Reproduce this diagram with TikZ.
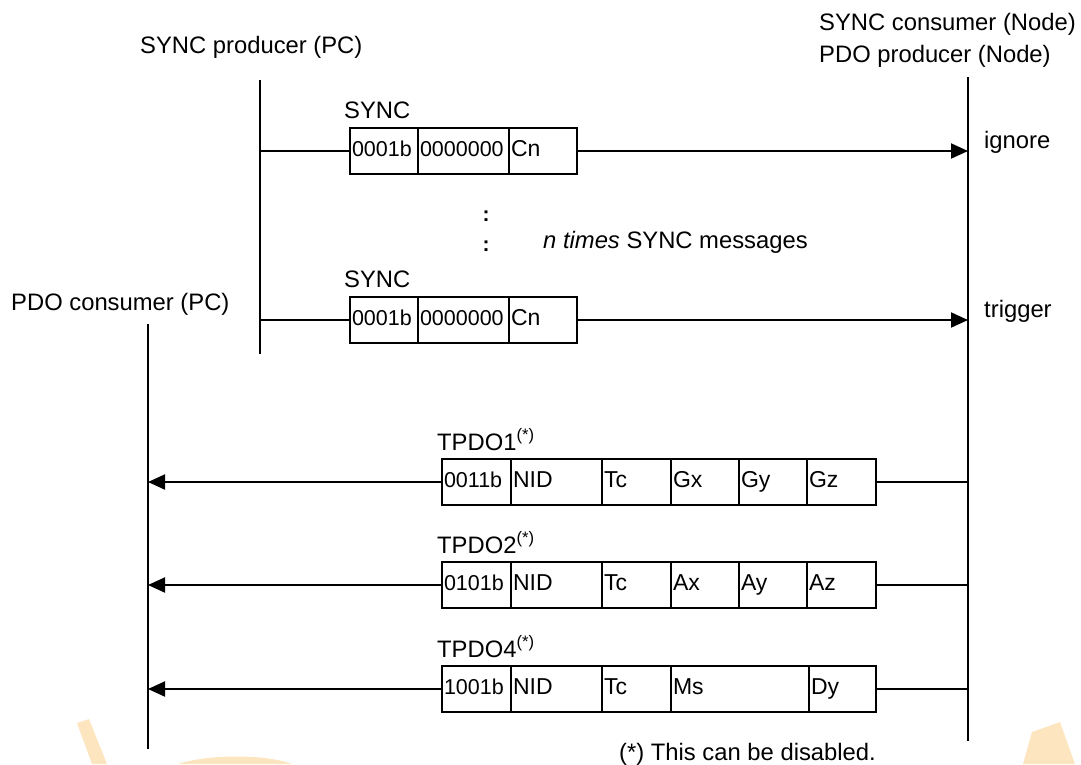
\documentclass[tikz,border=0pt]{standalone}
\usepackage{fontspec}
\setmainfont{Liberation Sans}
\usetikzlibrary{arrows.meta,positioning}
\definecolor{wmorange}{RGB}{253,229,192}

\begin{document}
\begin{tikzpicture}[x=1pt, y=-1pt,
    lbl/.style={font=\fontsize{23.8}{28}\selectfont, inner sep=0pt},
    field/.style={draw, line width=1.8pt, outer sep=0pt, minimum height=46pt,
        text width=#1-4pt, inner xsep=2pt, inner ysep=0pt, align=left,
        text height=16pt, text depth=5pt, font=\fontsize{23}{27}\selectfont},
    code/.style={field=#1, font=\fontsize{21.5}{25}\selectfont},
    life/.style={line width=1.3pt},
    wire/.style={line width=2pt},
    msg/.style={wire, -{Triangle[length=17pt, width=15pt]}}]

    \useasboundingbox (0,0) rectangle (1081,764);

    % Watermark pieces
    \fill[wmorange] (77,723) -- (89,719) -- (107,764) -- (92,764) -- cycle;
    \fill[wmorange] (178,764) .. controls (205,755) and (262,753) .. (292,764) -- cycle;
    \fill[wmorange] (1032,732) -- (1060,722) -- (1075,764) -- (1023,764) -- cycle;

    % Lifelines
    \coordinate (prodTop) at (260,80);
    \coordinate (prodBot) at (260,354);
    \coordinate (consTop) at (148,324);
    \coordinate (consBot) at (148,749);
    \coordinate (nodeTop) at (968,77);
    \coordinate (nodeBot) at (968,741);
    \draw[life] (prodTop) -- (prodBot);
    \draw[life] (consTop) -- (consBot);
    \draw[life] (nodeTop) -- (nodeBot);

    % Titles
    \node[lbl, anchor=base west] (prodTitle) at (140,53) {SYNC producer (PC)};
    \node[lbl, anchor=base west] (nodeTitleA) at (819,30) {SYNC consumer (Node)};
    \node[lbl, anchor=base west] (nodeTitleB) at (819,62) {PDO producer (Node)};
    \node[lbl, anchor=base west] (consTitle) at (11,310) {PDO consumer (PC)};

    % First SYNC message
    \node[lbl, anchor=base west] (syncA) at (344,118) {SYNC};
    \node[code=68pt, anchor=west] (syncAcob) at (350,151) {0001b};
    \node[code=91pt, right=0pt of syncAcob] (syncAnid) {0000000};
    \node[field=68pt, right=0pt of syncAnid] (syncAcn) {Cn};
    \coordinate (prodA) at (prodTop |- syncAcob);
    \coordinate (nodeA) at (nodeTop |- syncAcob);
    \draw[wire] (prodA) -- (syncAcob);
    \draw[msg] (syncAcn) -- (nodeA);
    \node[lbl, anchor=base west] (ignore) at (984,148) {ignore};

    % n times
    \node[font=\fontsize{21}{24}\selectfont\bfseries, inner sep=0pt] (dotsA) at (486,216) {:};
    \node[font=\fontsize{21}{24}\selectfont\bfseries, inner sep=0pt] (dotsB) at (486,246) {:};
    \node[lbl, anchor=base west] (ntimes) at (543,248) {\textit{n times} SYNC messages};

    % Last SYNC message
    \node[lbl, anchor=base west] (syncB) at (344,287) {SYNC};
    \node[code=68pt, anchor=west] (syncBcob) at (350,320) {0001b};
    \node[code=91pt, right=0pt of syncBcob] (syncBnid) {0000000};
    \node[field=68pt, right=0pt of syncBnid] (syncBcn) {Cn};
    \coordinate (prodB) at (prodTop |- syncBcob);
    \coordinate (nodeB) at (nodeTop |- syncBcob);
    \draw[wire] (prodB) -- (syncBcob);
    \draw[msg] (syncBcn) -- (nodeB);
    \node[lbl, anchor=base west] (trigger) at (984,317) {trigger};

    % TPDO1
    \node[lbl, anchor=base west] (tpdoA) at (437,450) {TPDO1\textsuperscript{(*)}};
    \node[code=69pt, anchor=west] (tpdoAcob) at (442,482) {0011b};
    \node[field=91pt, right=0pt of tpdoAcob] (tpdoAnid) {NID};
    \node[field=69pt, right=0pt of tpdoAnid] (tpdoAtc) {Tc};
    \node[field=68pt, right=0pt of tpdoAtc] (tpdoAx) {Gx};
    \node[field=68pt, right=0pt of tpdoAx] (tpdoAy) {Gy};
    \node[field=69pt, right=0pt of tpdoAy] (tpdoAz) {Gz};
    \coordinate (nodeC) at (nodeTop |- tpdoAcob);
    \coordinate (consC) at (consTop |- tpdoAcob);
    \draw[wire] (nodeC) -- (tpdoAz);
    \draw[msg] (tpdoAcob) -- (consC);

    % TPDO2
    \node[lbl, anchor=base west] (tpdoB) at (437,553) {TPDO2\textsuperscript{(*)}};
    \node[code=69pt, anchor=west] (tpdoBcob) at (442,585) {0101b};
    \node[field=91pt, right=0pt of tpdoBcob] (tpdoBnid) {NID};
    \node[field=69pt, right=0pt of tpdoBnid] (tpdoBtc) {Tc};
    \node[field=68pt, right=0pt of tpdoBtc] (tpdoBx) {Ax};
    \node[field=68pt, right=0pt of tpdoBx] (tpdoBy) {Ay};
    \node[field=69pt, right=0pt of tpdoBy] (tpdoBz) {Az};
    \coordinate (nodeD) at (nodeTop |- tpdoBcob);
    \coordinate (consD) at (consTop |- tpdoBcob);
    \draw[wire] (nodeD) -- (tpdoBz);
    \draw[msg] (tpdoBcob) -- (consD);

    % TPDO4
    \node[lbl, anchor=base west] (tpdoC) at (437,657) {TPDO4\textsuperscript{(*)}};
    \node[code=69pt, anchor=west] (tpdoCcob) at (442,689) {1001b};
    \node[field=91pt, right=0pt of tpdoCcob] (tpdoCnid) {NID};
    \node[field=69pt, right=0pt of tpdoCnid] (tpdoCtc) {Tc};
    \node[field=138pt, right=0pt of tpdoCtc] (tpdoCms) {Ms};
    \node[field=67pt, right=0pt of tpdoCms] (tpdoCdy) {Dy};
    \coordinate (nodeE) at (nodeTop |- tpdoCcob);
    \coordinate (consE) at (consTop |- tpdoCcob);
    \draw[wire] (nodeE) -- (tpdoCdy);
    \draw[msg] (tpdoCcob) -- (consE);

    % Footnote
    \node[lbl, anchor=base west] (note) at (619,760) {(*) This can be disabled.};
\end{tikzpicture}
\end{document}
